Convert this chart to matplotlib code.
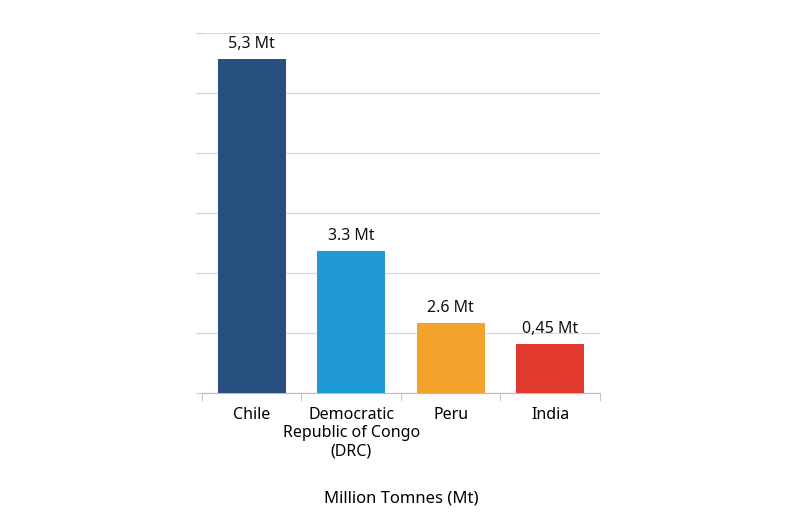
import matplotlib
matplotlib.use("Agg")
import matplotlib.pyplot as plt

categories = ["Chile", "Democratic\nRepublic of Congo\n(DRC)", "Peru", "India"]
heights = [5.57, 2.37, 1.17, 0.82]
value_labels = ["5,3 Mt", "3.3 Mt", "2.6 Mt", "0,45 Mt"]
colors = ["#274f7f", "#1f9ad6", "#f4a22c", "#e03a2f"]

plt.rcParams["font.family"] = "Noto Sans"
fig = plt.figure(figsize=(7.93, 5.28), dpi=100)
ax = fig.add_axes([0.2547, 0.2557, 0.5019, 0.6818])
x = range(len(categories))
ax.bar(x, heights, width=0.68, color=colors, zorder=3)
for xi, h, lab in zip(x, heights, value_labels):
    ax.text(xi, h + 0.12, lab, ha="center", va="bottom", fontsize=11.5, fontweight="semibold", color="#111111")
ax.set_xlim(-0.5, 3.5)
ax.set_ylim(0, 6)
ax.set_yticks(range(7))
ax.set_yticklabels([])
ax.tick_params(axis="y", length=4, color="#cccccc")
ax.grid(axis="y", color="#d9d9d9", linewidth=0.9, zorder=0)
for s in ["top", "right", "left"]:
    ax.spines[s].set_visible(False)
ax.spines["bottom"].set_color("#bbbbbb")
ax.set_xticks(list(x))
ax.set_xticklabels(categories, fontsize=11.5, fontweight="semibold", linespacing=1.2)
ax.tick_params(axis="x", length=0, pad=10)
ax.set_xticks([-0.5, 0.5, 1.5, 2.5, 3.5], minor=True)
ax.tick_params(axis="x", which="minor", length=6, color="#bbbbbb")
ax.set_xlabel("Million Tomnes (Mt)", fontsize=12, fontweight="semibold", labelpad=22)
fig.savefig("out.png", dpi=100)
